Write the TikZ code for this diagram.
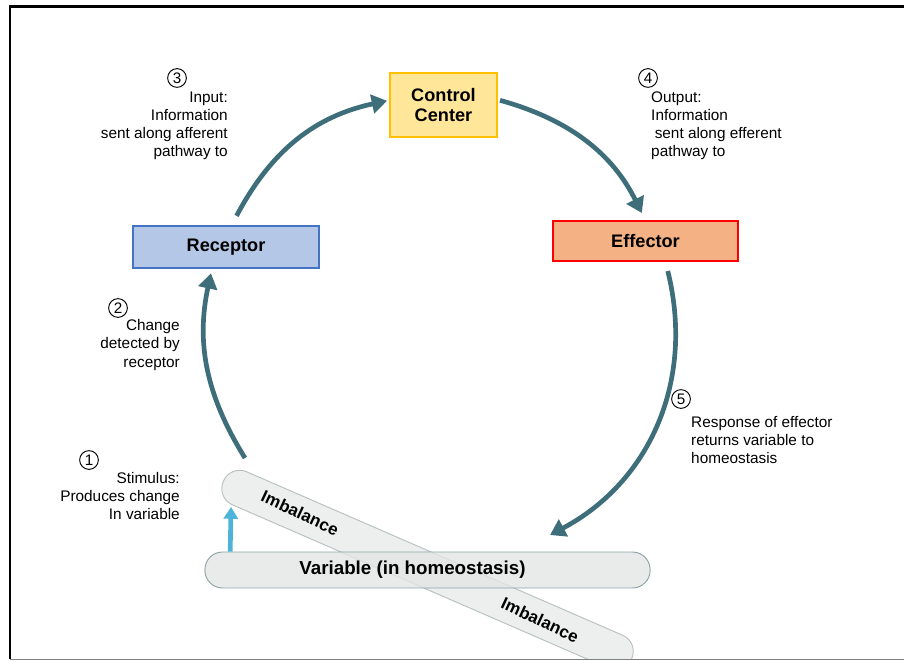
\documentclass[tikz,border=0pt]{standalone}
\usepackage{fontspec}
\setmainfont{Liberation Sans}
\usetikzlibrary{arrows.meta}

\definecolor{cycteal}{HTML}{3F6E7B}
\definecolor{stimblue}{HTML}{4DB3D9}
\definecolor{ctrlfill}{HTML}{FFE699}
\definecolor{ctrldraw}{HTML}{FFC000}
\definecolor{recfill}{HTML}{B4C7E7}
\definecolor{recdraw}{HTML}{4472C4}
\definecolor{efffill}{HTML}{F4B183}
\definecolor{effdraw}{HTML}{FF0000}
\definecolor{varfill}{HTML}{E2E6E5}
\definecolor{vardraw}{HTML}{8FA3A6}
\definecolor{imbfill}{HTML}{EDEFEE}
\definecolor{imbdraw}{HTML}{B8C0C0}

\begin{document}
\begin{tikzpicture}[x=0.03cm, y=0.03cm, >={Triangle[length=13pt,width=16pt]}]
    \tikzstyle{box} = [draw, line width=1.2pt, inner sep=0pt, align=center,
	font=\fontsize{15.5}{17}\selectfont\bfseries]
    \tikzstyle{bar} = [draw, line width=0.8pt, rectangle, rounded corners=15pt,
	minimum width=380pt, minimum height=30.7pt, inner sep=0pt]
    \tikzstyle{note} = [inner sep=0pt, font=\fontsize{13.1}{15.4}\selectfont]
    \tikzstyle{num} = [draw, circle, line width=0.8pt, minimum size=16pt,
	inner sep=0pt, font=\fontsize{13}{13}\selectfont]
    \tikzstyle{cyc} = [->, line width=4pt, draw=cycteal]

    \useasboundingbox (0,0) rectangle (904,660);

    % frame
    \draw[line width=2.5pt] (10,1) -- (10,653.5) -- (904,653.5);

    % imbalance bar behind the variable
    \begin{scope}
	\clip (0,1) rectangle (904,660);
	\node[bar, rotate=-23.5, fill=imbfill, draw=imbdraw] (imbalance) at (427.5,90) {};
	\node[rotate=-25, font=\fontsize{14.5}{14.5}\selectfont\bfseries] (imb_up) at (300,147) {Imbalance};
	\node[rotate=-25, font=\fontsize{14.5}{14.5}\selectfont\bfseries] (imb_down) at (540,40) {Imbalance};
    \end{scope}
    \draw[gray, line width=1pt] (10,0.5) -- (904,0.5);

    \begin{scope}
	\path[-]
	    node[box, fill=ctrlfill, draw=ctrldraw, minimum width=91.3pt,
		minimum height=54.6pt] (control) at (443.5,555) {Control\\Center}
	    node[box, fill=recfill, draw=recdraw, minimum width=158.8pt,
		minimum height=35.9pt] (receptor) at (226,413) {Receptor}
	    node[box, fill=efffill, draw=effdraw, minimum width=158pt,
		minimum height=34pt] (effector) at (645.5,419) {Effector}
	    node[bar, fill=varfill, draw=vardraw, fill opacity=0.8] (variable)
		at (427.5,90) {}
	    node[font=\fontsize{16}{17}\selectfont\bfseries] (var_text) at (412.5,90)
		{Variable (in homeostasis)}

	    node[num] (n_1) at (89,200) {1}
	    node[num] (n_2) at (118,352) {2}
	    node[num] (n_3) at (177,582) {3}
	    node[num] (n_4) at (648,582) {4}
	    node[num] (n_5) at (681,261) {5}

	    node[note, anchor=east, align=right] (stim_1) at (180,164)
		{Stimulus:\\Produces change\\In variable}
	    node[note, anchor=east, align=right] (chg_2) at (180,315)
		{Change\\detected by\\receptor}
	    node[note, anchor=east, align=right] (in_3) at (228,534.5)
		{Input:\\Information\\sent along afferent\\pathway to}
	    node[note, anchor=west, align=left] (out_4) at (651,534)
		{Output:\\Information\\\hspace*{3pt}sent along efferent\\pathway to}
	    node[note, anchor=west, align=left] (resp_5) at (691,220)
		{Response of effector\\returns variable to\\homeostasis}

	    coordinate (stim) at (245,202)
	    coordinate (stim_tip) at (231,153)
	    coordinate (var_in) at (550,125)

	    ([xshift=22pt]variable.north west) edge[->, line width=4pt, stimblue,
		>={Triangle[length=10pt,width=12pt]}] (stim_tip)

	    (stim) edge[cyc, bend left=22, shorten >=4pt] ([xshift=-12pt]receptor.south)
	    ([xshift=9pt,yshift=8pt]receptor.north) edge[cyc, bend left=25,
		shorten >=2pt] ([yshift=4pt]control.west)
	    ([xshift=2pt,yshift=4pt]control.east) edge[cyc, bend left=24,
		shorten >=7pt] (effector.north)
	    ([xshift=19pt,yshift=-8pt]effector.south) edge[cyc, bend left=38] (var_in)
	;
    \end{scope}
\end{tikzpicture}
\end{document}
